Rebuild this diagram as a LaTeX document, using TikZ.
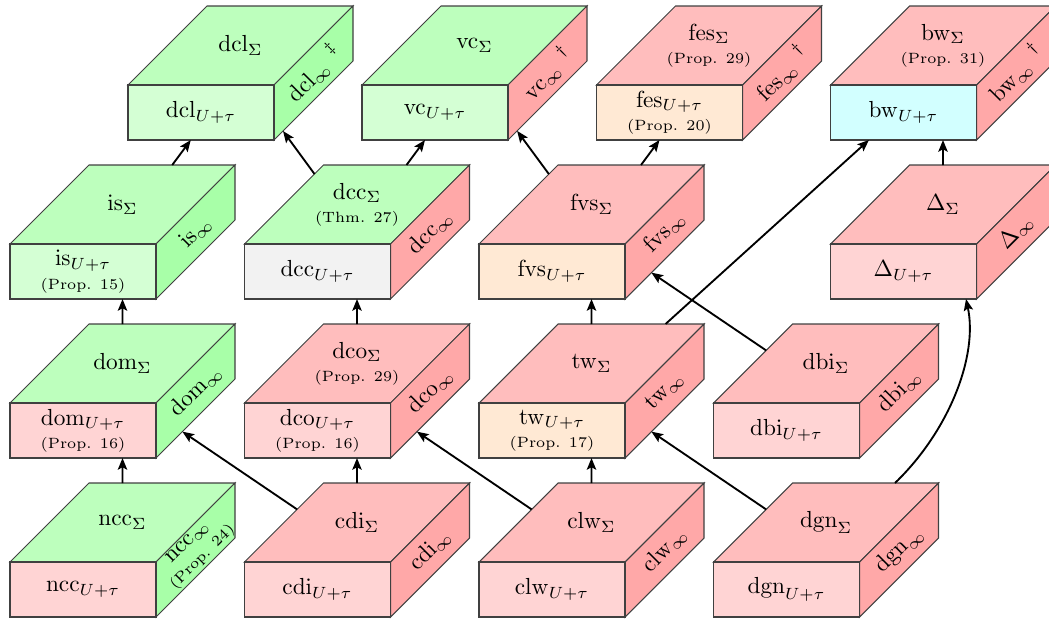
\documentclass[tikz,border=0pt]{standalone}
\usetikzlibrary{arrows.meta,intersections}
\colorlet{gF}{green!17}
\colorlet{gT}{green!26}
\colorlet{gR}{green!34}
\colorlet{rF}{red!17}
\colorlet{rT}{red!26}
\colorlet{rR}{red!34}
\colorlet{oF}{orange!17}
\definecolor{cF}{RGB}{210,255,255}
\colorlet{yF}{gray!10}
\tikzset{
  boxline/.style={draw=black!75, line width=0.45pt},
  frontface/.style={boxline, minimum width=62.78pt, minimum height=23.65pt, inner sep=0pt, align=center},
  facetext/.style={align=center, inner sep=0pt},
  arr/.style={line width=0.8pt, -{Stealth[length=5pt,width=4pt,inset=1pt]}},
}
\newcommand\prp[1]{{\fontsize{6.4}{7}\selectfont(#1)}}
\newcommand\dg[1]{\hspace{4pt}{}^{\raisebox{1pt}{$\scriptstyle#1$}}}
\newcommand\cuboid[9]{%
  \begin{scope}[shift={(#2,#3)}]
    \path[name path global=#1-hex] (0,55) -- (0,0) -- (79,-79) -- (225,-79) -- (225,-24) -- (146,55) -- cycle;
    \draw[boxline, fill=#5] (0,0) -- (79,-79) -- (225,-79) -- (146,0) -- cycle;
    \draw[boxline, fill=#6] (146,0) -- (225,-79) -- (225,-24) -- (146,55) -- cycle;
    \node[frontface, fill=#4] (#1) at (73,27.5) {#7};
    \node[facetext] (#1-top) at (112.5,-39.5) {#8};
    \node[facetext, rotate=45] (#1-side) at (185.5,-12) {#9};
    \coordinate (#1-c) at (112.5,-12);
  \end{scope}}
\newcommand\conn[2]{%
  \path[name path=cline] (#1-c) -- (#2-c);
  \path[name intersections={of=#1-hex and cline, by={#1-#2-s}}];
  \path[name intersections={of=#2-hex and cline, by={#1-#2-e}}];
  \draw[arr] (#1-#2-s) -- (#1-#2-e);}
\begin{document}
\begin{tikzpicture}[x=0.43pt, y=-0.43pt]
\useasboundingbox (0,0) rectangle (1049,621);
% row D
\cuboid{dcl}{128}{85}{gF}{gT}{gR}{$\mathrm{dcl}_{U+\tau}$}{$\mathrm{dcl}_{\Sigma}$}{$\mathrm{dcl}_{\infty}\dg{\ddagger}$}
\cuboid{vc}{362}{85}{gF}{gT}{rR}{$\mathrm{vc}_{U+\tau}$}{$\mathrm{vc}_{\Sigma}$}{$\mathrm{vc}_{\infty}\dg{\dagger}$}
\cuboid{fes}{596.5}{85}{oF}{rT}{rR}{$\mathrm{fes}_{U+\tau}$\\[-2pt]\prp{Prop. 20}}{$\mathrm{fes}_{\Sigma}$\\[-2pt]\prp{Prop. 29}}{$\mathrm{fes}_{\infty}\dg{\dagger}$}
\cuboid{bw}{830.5}{85}{cF}{rT}{rR}{$\mathrm{bw}_{U+\tau}$}{$\mathrm{bw}_{\Sigma}$\\[-2pt]\prp{Prop. 31}}{$\mathrm{bw}_{\infty}\dg{\dagger}$}
% row C
\cuboid{is}{10}{244}{gF}{gT}{gR}{$\mathrm{is}_{U+\tau}$\\[-2pt]\prp{Prop. 15}}{$\mathrm{is}_{\Sigma}$}{$\mathrm{is}_{\infty}$}
\cuboid{dcc}{244.5}{244}{yF}{gT}{rR}{$\mathrm{dcc}_{U+\tau}$}{$\mathrm{dcc}_{\Sigma}$\\[-2pt]\prp{Thm. 27}}{$\mathrm{dcc}_{\infty}$}
\cuboid{fvs}{479}{244}{oF}{rT}{rR}{$\mathrm{fvs}_{U+\tau}$}{$\mathrm{fvs}_{\Sigma}$}{$\mathrm{fvs}_{\infty}$}
\cuboid{Delta}{830.5}{244}{rF}{rT}{rR}{$\Delta_{U+\tau}$}{$\Delta_{\Sigma}$}{$\Delta_{\infty}$}
% row B
\cuboid{dom}{10}{403}{rF}{gT}{gR}{$\mathrm{dom}_{U+\tau}$\\[-2pt]\prp{Prop. 16}}{$\mathrm{dom}_{\Sigma}$}{$\mathrm{dom}_{\infty}$}
\cuboid{dco}{244.5}{403}{rF}{rT}{rR}{$\mathrm{dco}_{U+\tau}$\\[-2pt]\prp{Prop. 16}}{$\mathrm{dco}_{\Sigma}$\\[-2pt]\prp{Prop. 29}}{$\mathrm{dco}_{\infty}$}
\cuboid{tw}{479}{403}{oF}{rT}{rR}{$\mathrm{tw}_{U+\tau}$\\[-2pt]\prp{Prop. 17}}{$\mathrm{tw}_{\Sigma}$}{$\mathrm{tw}_{\infty}$}
\cuboid{dbi}{713.5}{403}{rF}{rT}{rR}{$\mathrm{dbi}_{U+\tau}$}{$\mathrm{dbi}_{\Sigma}$}{$\mathrm{dbi}_{\infty}$}
% row A
\cuboid{ncc}{10}{562}{rF}{gT}{gR}{$\mathrm{ncc}_{U+\tau}$}{$\mathrm{ncc}_{\Sigma}$}{$\mathrm{ncc}_{\infty}$\\[-3pt]\prp{Prop. 24}}
\cuboid{cdi}{244.5}{562}{rF}{rT}{rR}{$\mathrm{cdi}_{U+\tau}$}{$\mathrm{cdi}_{\Sigma}$}{$\mathrm{cdi}_{\infty}$}
\cuboid{clw}{479}{562}{rF}{rT}{rR}{$\mathrm{clw}_{U+\tau}$}{$\mathrm{clw}_{\Sigma}$}{$\mathrm{clw}_{\infty}$}
\cuboid{dgn}{713.5}{562}{rF}{rT}{rR}{$\mathrm{dgn}_{U+\tau}$}{$\mathrm{dgn}_{\Sigma}$}{$\mathrm{dgn}_{\infty}$}
% connectors
\conn{is}{dcl}
\conn{dcc}{dcl}
\conn{dcc}{vc}
\conn{fvs}{vc}
\conn{fvs}{fes}
\conn{tw}{bw}
\conn{Delta}{bw}
\conn{dom}{is}
\conn{dco}{dcc}
\conn{tw}{fvs}
\conn{dbi}{fvs}
\conn{ncc}{dom}
\conn{cdi}{dom}
\conn{cdi}{dco}
\conn{clw}{dco}
\conn{clw}{tw}
\conn{dgn}{tw}
\coordinate (dgn-o) at (895,483);
\coordinate (Delta-i) at (966,299);
\draw[arr] (dgn-o) .. controls (950,430) and (978,355) .. (Delta-i);
\end{tikzpicture}
\end{document}
